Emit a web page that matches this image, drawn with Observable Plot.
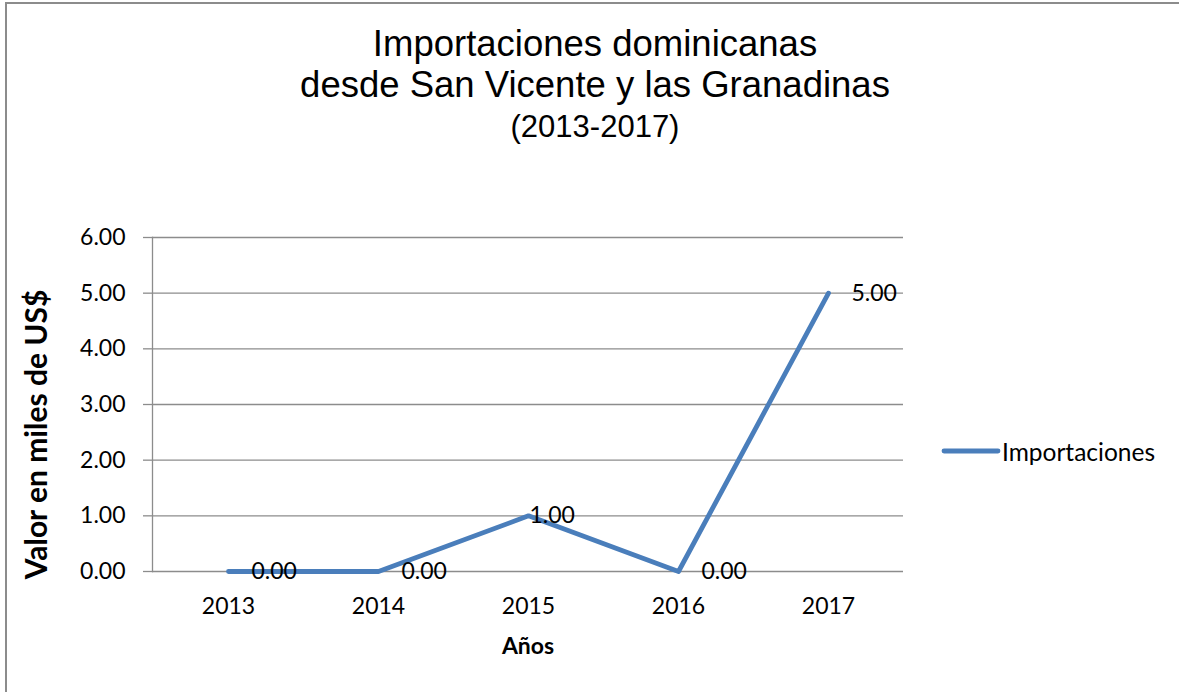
<!DOCTYPE html>
<html>
<head>
<meta charset="utf-8">
<script src="https://cdn.jsdelivr.net/npm/d3@7"></script>
<script src="https://cdn.jsdelivr.net/npm/@observablehq/plot@0.6"></script>
<style>
  html, body { margin: 0; padding: 0; background: #fff; }
  #wrap { position: relative; width: 1179px; height: 692px; overflow: hidden; background: #fff; }
  #frame { position: absolute; left: 5px; top: 2px; width: 1300px; height: 800px; border-left: 2px solid #8c8c8c; border-top: 2px solid #8c8c8c; box-sizing: border-box; }
  .title { position: absolute; left: 0; width: 1190px; text-align: center; font-family: "Liberation Sans", Arial, sans-serif; color: #000; white-space: nowrap; }
  #chart { position: absolute; left: 0; top: 0; }
  #legend { position: absolute; left: 941px; top: 436px; display: flex; align-items: center; font-family: Lato, sans-serif; font-size: 24.5px; color: #000; }
  #legend svg { display: block; margin-right: 1px; }
</style>
</head>
<body>
<div id="wrap">
  <div id="frame"></div>
  <div id="chart"></div>
  <div class="title" id="t1" style="top:23px;font-size:36.5px;line-height:41px;"></div>
  <div class="title" id="t3" style="top:109px;font-size:31px;line-height:35px;"></div>
  <div id="legend"></div>
</div>
<script>
const titleLines = ["Importaciones dominicanas", "desde San Vicente y las Granadinas", "(2013-2017)"];
const years = ["2013", "2014", "2015", "2016", "2017"];
const values = [0, 0, 1, 0, 5];
const yTicks = [0, 1, 2, 3, 4, 5, 6];
const seriesName = "Importaciones";
const yTitle = "Valor en miles de US$";
const xTitle = "Años";

const lineColor = "#4a7ebb";
const gridColor = "#8c8c8c";

const t1 = document.getElementById("t1");
t1.appendChild(document.createTextNode(titleLines[0]));
t1.appendChild(document.createElement("br"));
t1.appendChild(document.createTextNode(titleLines[1]));
document.getElementById("t3").textContent = titleLines[2];

const data = years.map((year, i) => ({year, value: values[i]}));
const fmt = d => d.value.toFixed(2);

const chart = Plot.plot({
  width: 1179,
  height: 692,
  marginLeft: 152,
  marginRight: 276,
  marginTop: 237,
  marginBottom: 121,
  style: {fontFamily: "Lato, sans-serif", fontSize: "23px", color: "#000", background: "transparent", overflow: "visible"},
  x: {type: "point", domain: years, padding: 0.5, label: null},
  y: {domain: [0, 6], label: null},
  marks: [
    Plot.gridY(yTicks, {stroke: gridColor, strokeOpacity: 1, strokeWidth: 1.3}),
    Plot.frame({anchor: "left", stroke: gridColor, strokeWidth: 1.3}),
    Plot.axisY(yTicks, {tickFormat: d => d.toFixed(2), tickSize: 9, tickPadding: 18, stroke: gridColor, strokeWidth: 1.3, fill: "#000", fontSize: 23, label: null}),
    Plot.axisX({tickSize: 0, tickPadding: 26, fill: "#000", fontSize: 23, label: null}),
    Plot.line(data, {x: "year", y: "value", stroke: lineColor, strokeWidth: 4.8, strokeLinecap: "round", strokeLinejoin: "round"}),
    Plot.text(data, {filter: d => d.year !== "2015", x: "year", y: "value", text: fmt, textAnchor: "start", dx: 23, fontSize: 23, fill: "#000"}),
    Plot.text(data, {filter: d => d.year === "2015", x: "year", y: "value", text: fmt, textAnchor: "start", dx: 1, fontSize: 23, fill: "#000"}),
    Plot.text([yTitle], {frameAnchor: "left", textAnchor: "middle", rotate: -90, dx: -115, dy: 30, fontWeight: "bold", fontSize: 30, fill: "#000"}),
    Plot.text([xTitle], {frameAnchor: "bottom", dy: 82, fontWeight: "bold", fontSize: 23, fill: "#000"})
  ]
});
document.getElementById("chart").appendChild(chart);

const legend = document.getElementById("legend");
legend.innerHTML = `<svg width="60" height="30"><line x1="3" y1="15" x2="57" y2="15" stroke="${lineColor}" stroke-width="4.8" stroke-linecap="round"/></svg><span></span>`;
legend.querySelector("span").textContent = seriesName;
</script>
</body>
</html>
